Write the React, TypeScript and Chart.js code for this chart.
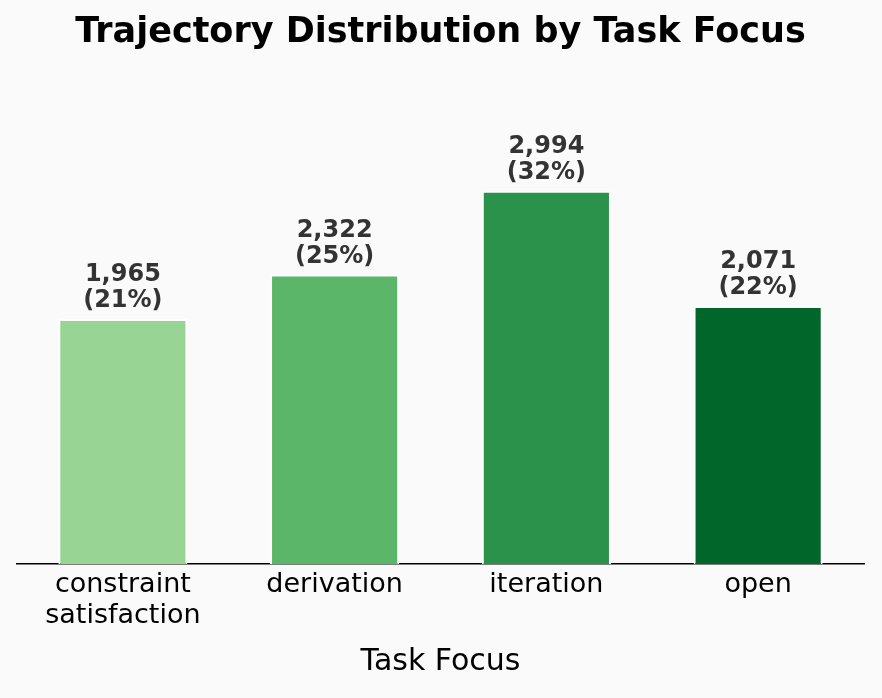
import React, {useEffect, useRef} from 'react';
import {Chart, registerables} from 'chart.js';

Chart.register(...registerables);

const categories = [['constraint', 'satisfaction'], 'derivation', 'iteration', 'open'];
const counts = [1965, 2322, 2994, 2071];
const barColors = ['#98d594', '#5bb66a', '#2a924a', '#00662a'];

const FONT = '"DejaVu Sans", sans-serif';

const valueLabels = {
    id: 'valueLabels',
    afterDatasetsDraw(chart: Chart) {
        const ctx = chart.ctx;
        const total = counts.reduce((a, b) => a + b, 0);
        const meta = chart.getDatasetMeta(0);
        ctx.save();
        ctx.font = `bold 24px ${FONT}`;
        ctx.fillStyle = '#333333';
        ctx.textAlign = 'center';
        ctx.textBaseline = 'alphabetic';
        meta.data.forEach((bar: any, i: number) => {
            const pct = Math.round((counts[i] / total) * 100);
            const y2 = bar.y - 12;
            ctx.fillText(`(${pct}%)`, bar.x, y2);
            ctx.fillText(counts[i].toLocaleString('en-US'), bar.x, y2 - 26);
        });
        ctx.restore();
    }
};

const App: React.FC = () => {
    const chartRef = useRef<HTMLCanvasElement | null>(null);
    const chartInstanceRef = useRef<Chart | null>(null);

    useEffect(() => {
        document.body.style.margin = '0';
        if (chartInstanceRef.current) {
            chartInstanceRef.current.destroy();
        }
        if (chartRef.current) {
            chartInstanceRef.current = new Chart(chartRef.current, {
                type: 'bar',
                data: {
                    labels: categories,
                    datasets: [{
                        data: counts,
                        backgroundColor: barColors,
                        borderColor: '#ffffff',
                        borderWidth: 2,
                        categoryPercentage: 1,
                        barPercentage: 0.61,
                    }]
                },
                options: {
                    responsive: false,
                    animation: false,
                    layout: {padding: {left: 17, right: 18, top: 0, bottom: 14}},
                    plugins: {
                        legend: {display: false},
                        tooltip: {enabled: false},
                        title: {
                            display: true,
                            text: 'Trajectory Distribution by Task Focus',
                            color: '#000000',
                            font: {family: FONT, size: 35, weight: 'bold', lineHeight: 1.2},
                            padding: {top: 12, bottom: 80},
                        },
                    },
                    scales: {
                        x: {
                            grid: {display: false},
                            border: {display: true, color: '#000000', width: 1.5},
                            ticks: {
                                color: '#000000',
                                padding: -3,
                                font: {family: FONT, size: 27, lineHeight: '31px'},
                                maxRotation: 0,
                            },
                            title: {
                                display: true,
                                text: 'Task Focus',
                                color: '#000000',
                                font: {family: FONT, size: 30, lineHeight: 1.2},
                                padding: {top: 16, bottom: 4},
                            },
                        },
                        y: {
                            display: false,
                            min: 0,
                            max: 3450,
                        },
                    },
                },
                plugins: [valueLabels],
            });
        }
        return () => {
            if (chartInstanceRef.current) {
                chartInstanceRef.current.destroy();
                chartInstanceRef.current = null;
            }
        };
    }, []);

    return (
        <div style={{width: 882, height: 698, background: '#fafafa'}}>
            <canvas ref={chartRef} width="882" height="698"></canvas>
        </div>
    );
};

export default App;
